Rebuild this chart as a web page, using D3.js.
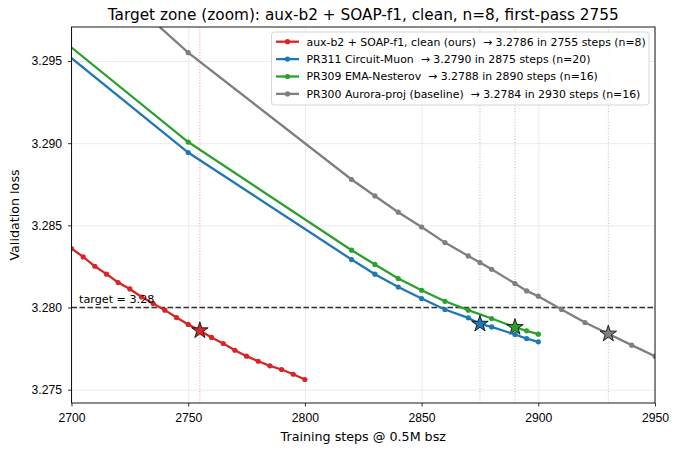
<!DOCTYPE html>
<html>
<head>
<meta charset="utf-8">
<script src="https://cdn.jsdelivr.net/npm/d3@7"></script>
<style>
  body { margin: 0; background: #fff; }
  svg { font-family: "DejaVu Sans", sans-serif; }
  .grid line { stroke: #e6e6e6; stroke-width: 0.8; }
  .grid .domain { display: none; }
  .axis text { font-size: 12.2px; fill: #000; }
  .axis line, .axis path { stroke: #000; stroke-width: 0.8; }
  .legend text { white-space: pre; }
</style>
</head>
<body>
<svg width="680" height="450"></svg>
<script>
const titleText = 'Target zone (zoom): aux-b2 + SOAP-f1, clean, n=8, first-pass 2755'
const xTicks = [2700, 2750, 2800, 2850, 2900, 2950]
const yTicks = [3.275, 3.280, 3.285, 3.290, 3.295]
const target = 3.28

const redSteps = [2700, 2705, 2710, 2715, 2720, 2725, 2730, 2735, 2740, 2745, 2750,
  2755, 2760, 2765, 2770, 2775, 2780, 2785, 2790, 2795, 2800]
const redLoss = [3.28359, 3.28308, 3.28251, 3.28203, 3.28152, 3.28113, 3.28064, 3.28024,
  3.27984, 3.27939, 3.27897, 3.27860, 3.27818, 3.27781, 3.27740, 3.27704, 3.27673,
  3.27645, 3.27623, 3.27594, 3.27562]

const blueSteps = [2650, 2750, 2820, 2830, 2840, 2850, 2860, 2870, 2875, 2880, 2890, 2895, 2900]
const blueLoss = [3.30093, 3.28943, 3.28292, 3.28203, 3.28125, 3.28055, 3.27988, 3.27937,
  3.27900, 3.27882, 3.27836, 3.27811, 3.27791]

const greenSteps = [2650, 2750, 2820, 2830, 2840, 2850, 2860, 2870, 2880, 2890, 2895, 2900]
const greenLoss = [3.30157, 3.29007, 3.28349, 3.28262, 3.28176, 3.28105, 3.28038, 3.27984,
  3.27933, 3.27880, 3.27858, 3.27838]

const graySteps = [2650, 2750, 2820, 2830, 2840, 2850, 2860, 2870, 2875, 2880, 2890, 2895,
  2900, 2910, 2920, 2930, 2940, 2950]
const grayLoss = [3.30830, 3.29551, 3.28779, 3.28679, 3.28580, 3.28490, 3.28395, 3.28314,
  3.28274, 3.28233, 3.28146, 3.28101, 3.28069, 3.27988, 3.27909, 3.27840, 3.27771, 3.27704]

const runNames = [
  'aux-b2 + SOAP-f1, clean (ours)  \u2192 3.2786 in 2755 steps (n=8)',
  'PR311 Circuit-Muon  \u2192 3.2790 in 2875 steps (n=20)',
  'PR309 EMA-Nesterov  \u2192 3.2788 in 2890 steps (n=16)',
  'PR300 Aurora-proj (baseline)  \u2192 3.2784 in 2930 steps (n=16)'
]
const runColors = ['#d62728', '#1f77b4', '#2ca02c', '#7f7f7f']
const hitSteps = [2755, 2875, 2890, 2930]
const hitLoss = [3.2786, 3.2790, 3.2788, 3.2784]

const runs = [
  { steps: redSteps, loss: redLoss },
  { steps: blueSteps, loss: blueLoss },
  { steps: greenSteps, loss: greenLoss },
  { steps: graySteps, loss: grayLoss }
].map((r, i) => ({
  name: runNames[i],
  color: runColors[i],
  hit: { step: hitSteps[i], loss: hitLoss[i] },
  points: r.steps.map((s, j) => ({ step: s, loss: r.loss[j] }))
}))

const svg = d3.select('svg')
const plotLeft = 71.5, plotRight = 655, plotTop = 27, plotBottom = 403

const xScale = d3.scaleLinear().domain([2700, 2950]).range([plotLeft, plotRight])
const yScale = d3.scaleLinear().domain([3.27419, 3.29707]).range([plotBottom, plotTop])

svg.append('defs').append('clipPath')
  .attr('id', 'plot')
  .append('rect')
  .attr('x', plotLeft).attr('y', plotTop)
  .attr('width', plotRight - plotLeft).attr('height', plotBottom - plotTop)

// grid
svg.append('g')
  .attr('class', 'grid')
  .attr('transform', `translate(0, ${plotBottom})`)
  .call(d3.axisBottom(xScale).tickValues(xTicks).tickSize(-(plotBottom - plotTop)).tickFormat(''))

svg.append('g')
  .attr('class', 'grid')
  .attr('transform', `translate(${plotLeft}, 0)`)
  .call(d3.axisLeft(yScale).tickValues(yTicks).tickSize(-(plotRight - plotLeft)).tickFormat(''))

const plot = svg.append('g').attr('clip-path', 'url(#plot)')

// first-pass markers
plot.selectAll('.hitline')
  .data(runs)
  .enter()
  .append('line')
  .attr('x1', (r) => xScale(r.hit.step))
  .attr('x2', (r) => xScale(r.hit.step))
  .attr('y1', plotTop)
  .attr('y2', plotBottom)
  .attr('stroke', (r) => r.color)
  .attr('stroke-opacity', 0.5)
  .attr('stroke-width', 1)
  .attr('stroke-dasharray', '1,1.8')

plot.append('line')
  .attr('x1', plotLeft).attr('x2', plotRight)
  .attr('y1', yScale(target)).attr('y2', yScale(target))
  .attr('stroke', '#333')
  .attr('stroke-width', 1.5)
  .attr('stroke-dasharray', '5.5,2.5')

const line = d3.line()
  .x((d) => xScale(d.step))
  .y((d) => yScale(d.loss))

const runGroups = plot.selectAll('.run')
  .data(runs.slice().reverse())
  .enter()
  .append('g')

runGroups.append('path')
  .attr('d', (r) => line(r.points))
  .attr('fill', 'none')
  .attr('stroke', (r) => r.color)
  .attr('stroke-width', 2.3)

runGroups.selectAll('circle')
  .data((r) => r.points.map((p) => ({ ...p, color: r.color })))
  .enter()
  .append('circle')
  .attr('cx', (d) => xScale(d.step))
  .attr('cy', (d) => yScale(d.loss))
  .attr('r', 2.6)
  .attr('fill', (d) => d.color)

runGroups.append('path')
  .attr('d', d3.symbol(d3.symbolStar, 85))
  .attr('transform', (r) => `translate(${xScale(r.hit.step)}, ${yScale(r.hit.loss)})`)
  .attr('fill', (r) => r.color)
  .attr('stroke', '#000')
  .attr('stroke-width', 0.8)

svg.append('text')
  .attr('x', 79)
  .attr('y', yScale(target) - 5)
  .style('font-size', '11.2px')
  .text(`target = ${target}`)

// axes
svg.append('rect')
  .attr('x', plotLeft).attr('y', plotTop)
  .attr('width', plotRight - plotLeft).attr('height', plotBottom - plotTop)
  .attr('fill', 'none')
  .attr('stroke', '#000')
  .attr('stroke-width', 0.9)

svg.append('g')
  .attr('class', 'axis')
  .attr('transform', `translate(0, ${plotBottom})`)
  .call(d3.axisBottom(xScale).tickValues(xTicks).tickSize(3.5).tickPadding(6.5).tickFormat(d3.format('d')))
  .call((g) => g.select('.domain').remove())

svg.append('g')
  .attr('class', 'axis')
  .attr('transform', `translate(${plotLeft}, 0)`)
  .call(d3.axisLeft(yScale).tickValues(yTicks).tickSize(3.5).tickPadding(6).tickFormat(d3.format('.3f')))
  .call((g) => g.select('.domain').remove())

svg.append('text')
  .attr('x', (plotLeft + plotRight) / 2)
  .attr('y', 441)
  .attr('text-anchor', 'middle')
  .style('font-size', '12.7px')
  .text('Training steps @ 0.5M bsz')

svg.append('text')
  .attr('transform', `translate(19, ${(plotTop + plotBottom) / 2}) rotate(-90)`)
  .attr('text-anchor', 'middle')
  .style('font-size', '12.7px')
  .text('Validation loss')

svg.append('text')
  .attr('x', (plotLeft + plotRight) / 2)
  .attr('y', 20)
  .attr('text-anchor', 'middle')
  .style('font-size', '15.3px')
  .text(titleText)

// legend
const legend = svg.append('g')
  .attr('class', 'legend')
  .attr('transform', 'translate(271.5, 32)')

legend.append('rect')
  .attr('width', 377.5)
  .attr('height', 73)
  .attr('rx', 3)
  .attr('fill', '#fff')
  .attr('fill-opacity', 0.85)
  .attr('stroke', '#ccc')
  .attr('stroke-width', 0.8)

const items = legend.selectAll('.item')
  .data(runs)
  .enter()
  .append('g')
  .attr('transform', (r, i) => `translate(0, ${9.7 + i * 17.4})`)

items.append('line')
  .attr('x1', 4.5).attr('x2', 27.5)
  .attr('stroke', (r) => r.color)
  .attr('stroke-width', 2.3)

items.append('circle')
  .attr('cx', 16).attr('r', 2.6)
  .attr('fill', (r) => r.color)

items.append('text')
  .attr('x', 35)
  .attr('dy', '0.35em')
  .style('font-size', '10.9px')
  .text((r) => r.name)
</script>
</body>
</html>
